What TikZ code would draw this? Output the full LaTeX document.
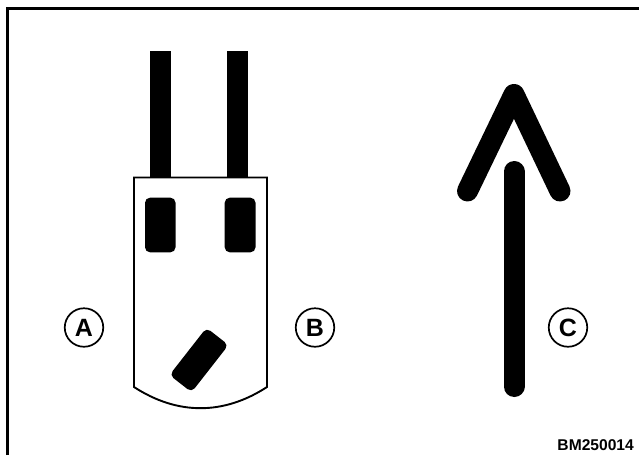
\documentclass[tikz,border=0pt]{standalone}
\usepackage{fontspec}
\setmainfont{Liberation Sans}
\usetikzlibrary{positioning}
\tikzset{
  frameline/.style={line width=3.5pt,draw=black},
  lead/.style={fill=black,draw=none},
  pin/.style={fill=black,rounded corners=5pt},
  body/.style={line width=1.9pt,draw=black,fill=white},
  bigarrow/.style={line width=21pt,draw=black,line cap=round,line join=round},
  callout/.style={circle,draw=black,line width=1.7pt,minimum size=38.5pt,inner sep=0pt,font=\fontsize{25}{25}\selectfont\bfseries},
  figid/.style={font=\fontsize{15.6}{16}\selectfont\bfseries,inner sep=0pt},
}
\begin{document}
\begin{tikzpicture}[x=1pt,y=-1pt]
  \useasboundingbox (0,0) rectangle (639,455);
  \fill[white] (0,0) rectangle (639,455);
  \draw[frameline] (7.7,455) -- (7.7,8.7) -- (639,8.7);
  % connector
  \fill[lead] (149.5,51) rectangle (171,178);
  \fill[lead] (226.7,51) rectangle (248,178);
  \draw[body] (134,177.5) -- (267,177.5) -- (267,387) to[bend left=33] (134,387) -- cycle;
  \fill[pin] (145,197.7) rectangle (175.5,252.3);
  \fill[pin] (224.7,197.7) rectangle (255.5,252.3);
  \fill[pin,rotate around={52:(199,360)}] (169,346) rectangle (229,374);
  \node[callout] (a) at (84,327.5) {A};
  \node[callout] (b) at (315,327.5) {B};
  % direction
  \draw[bigarrow] (514,171.5) -- (514,386.5);
  \draw[bigarrow] (467.5,191) -- (514,94.5) -- (560,191);
  \node[callout] (c) at (568,327.5) {C};
  \node[figid,anchor=base east] (id) at (634,450) {BM250014};
\end{tikzpicture}
\end{document}
